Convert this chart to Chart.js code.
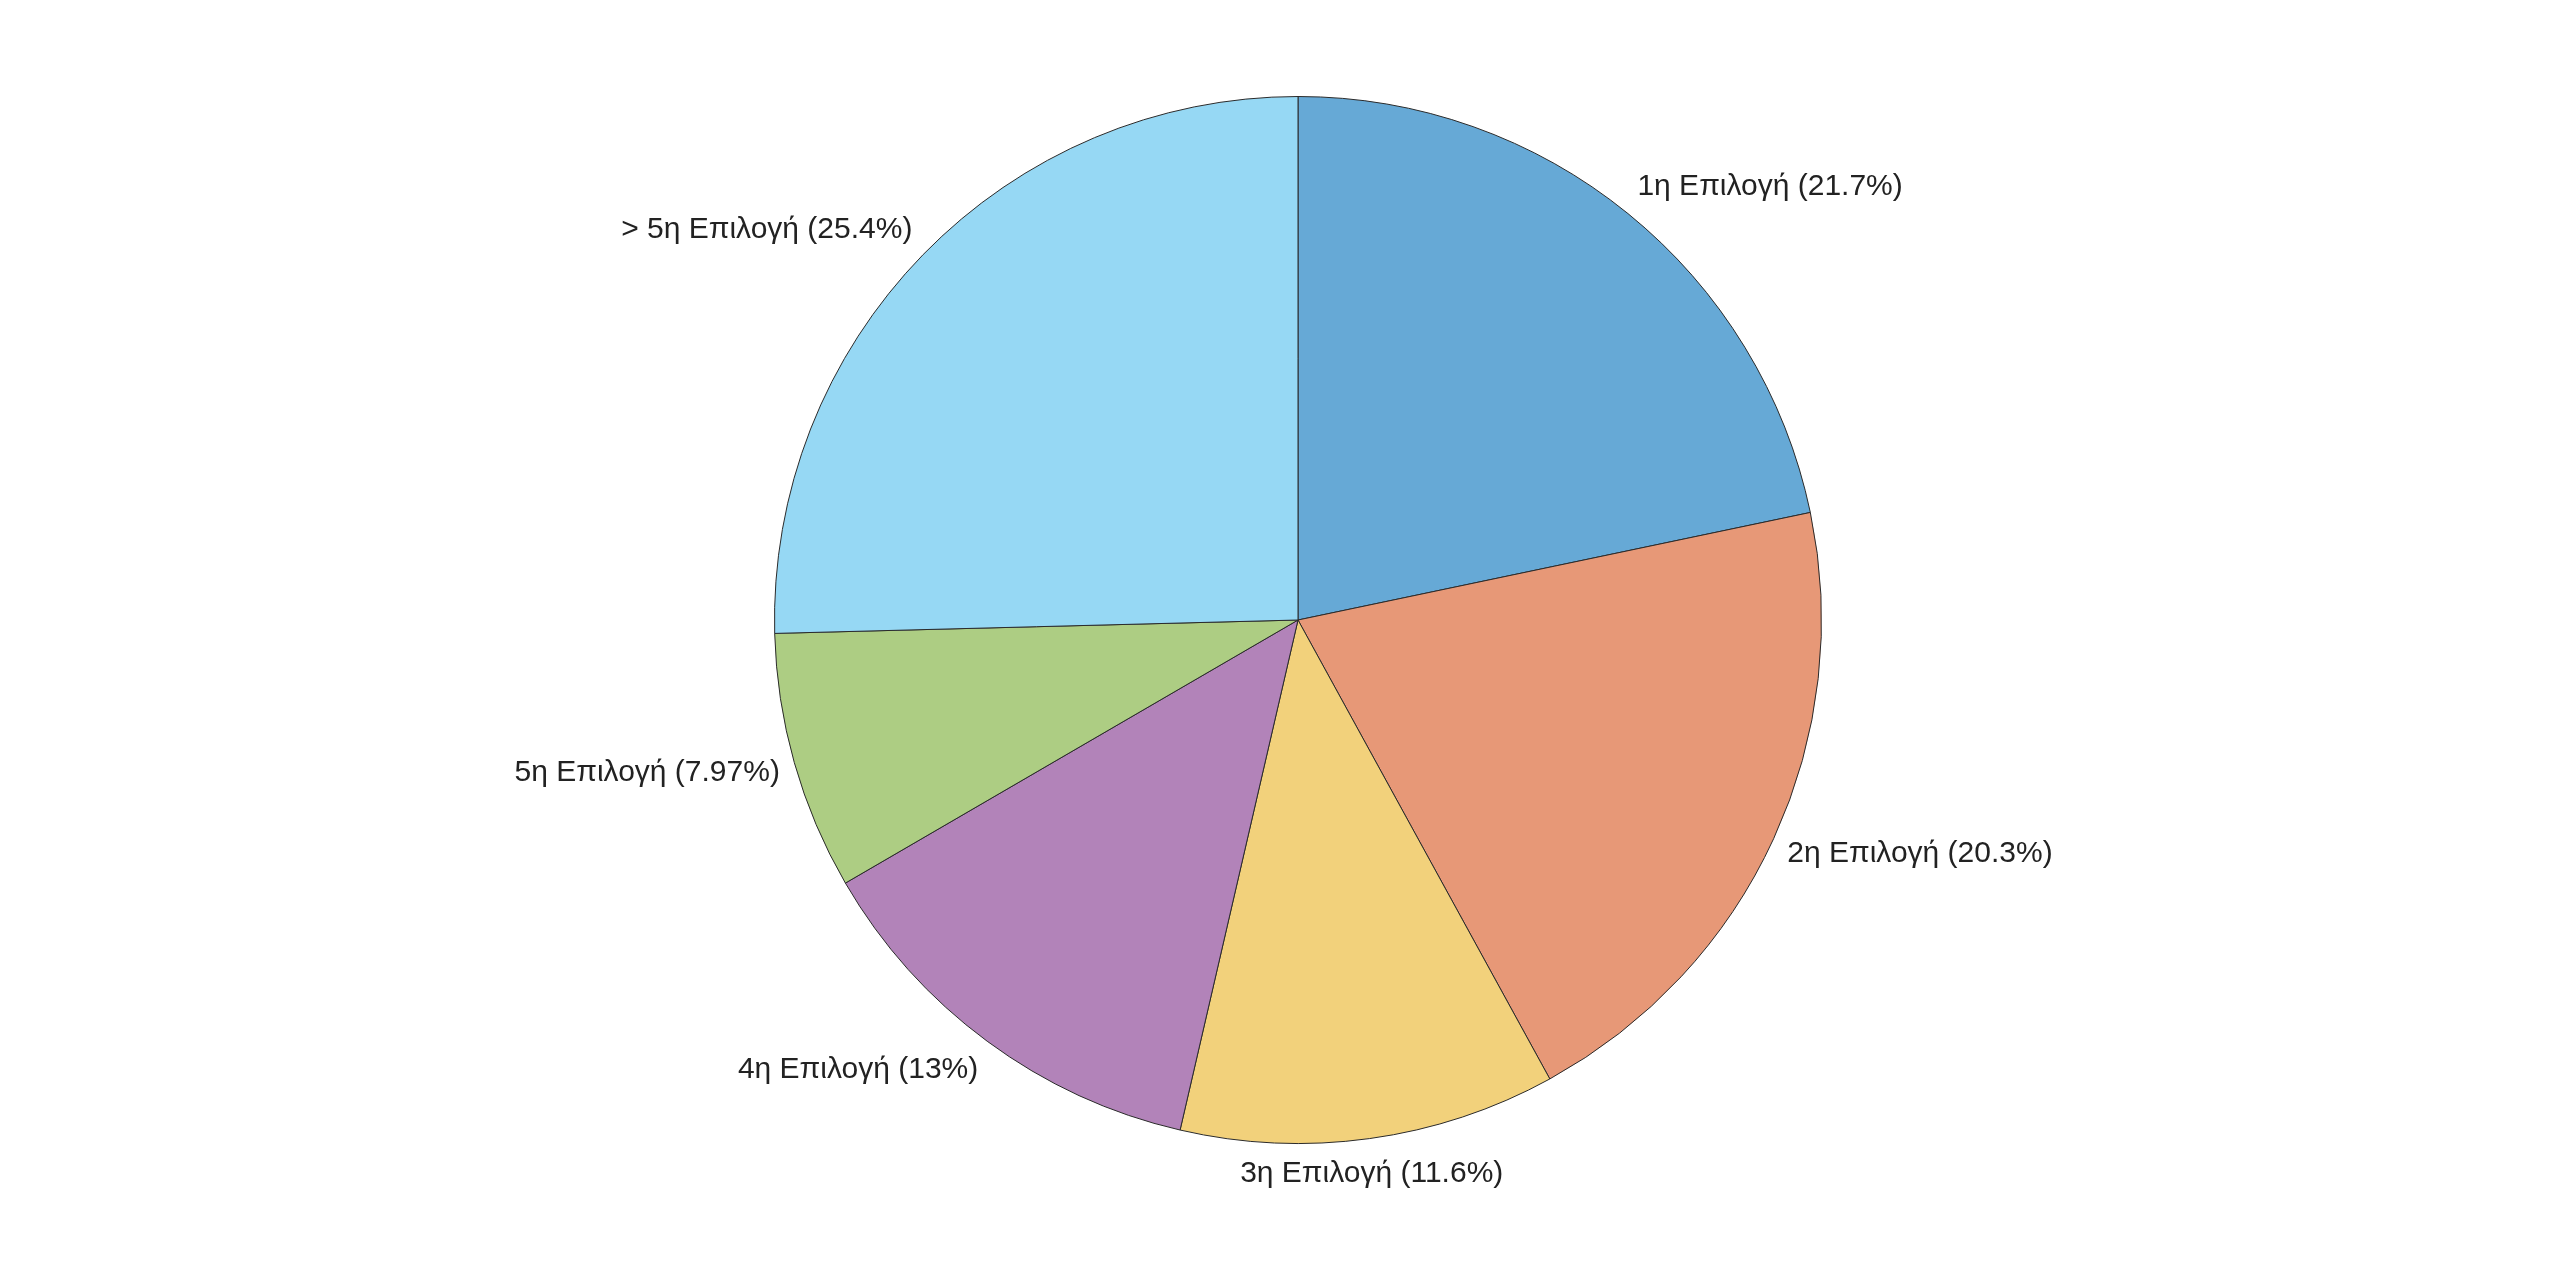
<!DOCTYPE html>
<html>
<head>
<meta charset="utf-8">
<script src="https://cdn.jsdelivr.net/npm/chart.js@4.4.1/dist/chart.umd.min.js"></script>
<style>
    html, body { margin: 0; padding: 0; background: #ffffff; }
    #wrap { width: 100vw; height: 100vh; position: relative; }
</style>
</head>
<body>
<div id="wrap"><canvas id="chart1"></canvas></div>
<script>
// data
var categories = ['1η Επιλογή', '2η Επιλογή', '3η Επιλογή', '4η Επιλογή', '5η Επιλογή', '> 5η Επιλογή'];
var shares = [21.7, 20.3, 11.6, 13, 7.97, 25.4];
var sliceColors = ['#66a9d6', '#e79877', '#f2d17b', '#b283b9', '#adcd83', '#96d8f4'];

// labels outside the pie, aligned by which side of the circle they sit on
var outsideLabels = {
    id: 'outsideLabels',
    afterDatasetsDraw: function (chart) {
        var ctx = chart.ctx;
        var meta = chart.getDatasetMeta(0);
        ctx.save();
        ctx.font = '30px "Liberation Sans", Arial, sans-serif';
        ctx.fillStyle = '#222222';
        ctx.textBaseline = 'middle';
        meta.data.forEach(function (arc, i) {
            var p = arc.getProps(['x', 'y', 'startAngle', 'endAngle', 'outerRadius'], true);
            var mid = (p.startAngle + p.endAngle) / 2;
            var r = p.outerRadius + 15;
            var px = p.x + Math.cos(mid) * r;
            var py = p.y + Math.sin(mid) * r;
            var cx = Math.cos(mid);
            if (Math.abs(cx) < 0.2) {
                ctx.textAlign = 'center';
            } else if (cx > 0) {
                ctx.textAlign = 'left';
            } else {
                ctx.textAlign = 'right';
            }
            py += Math.sin(mid) * 20;
            var text = categories[i] + ' (' + shares[i] + '%)';
            ctx.fillText(text, px, py);
        });
        ctx.restore();
    }
};

const data = {
    labels: categories,
    datasets: [{
        data: shares,
        backgroundColor: sliceColors,
        borderColor: '#2a2a2a',
        borderWidth: 1
    }]
};

const config = {
    type: 'pie',
    data: data,
    options: {
        responsive: true,
        maintainAspectRatio: false,
        animation: false,
        layout: {
            padding: { top: 96, bottom: 142, left: 36, right: 0 }
        },
        plugins: {
            legend: { display: false },
            tooltip: { enabled: false }
        }
    },
    plugins: [outsideLabels]
};

var chart1 = new Chart(document.getElementById('chart1'), config);
</script>
</body>
</html>
